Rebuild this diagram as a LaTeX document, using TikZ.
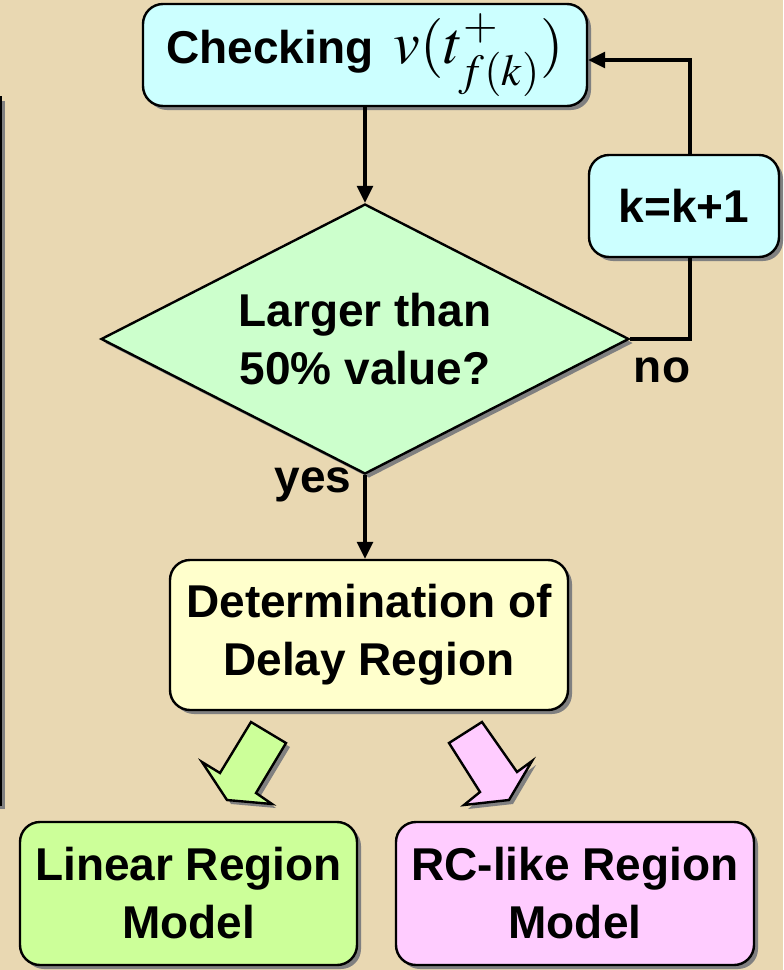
\documentclass[tikz,border=0pt]{standalone}
\usepackage{mathptmx}
\usepackage{fontspec}
\setmainfont{Liberation Sans}
\usetikzlibrary{shapes.geometric,arrows.meta,shadows}
\definecolor{paper}{RGB}{233,216,178}
\definecolor{boxcyan}{RGB}{204,255,255}
\definecolor{boxmint}{RGB}{204,255,204}
\definecolor{boxcream}{RGB}{255,255,204}
\definecolor{boxlime}{RGB}{204,255,153}
\definecolor{boxpink}{RGB}{255,204,255}
\definecolor{shadowgray}{RGB}{128,128,128}

\begin{document}
\begin{tikzpicture}[x=0.5pt, y=-0.5pt,
    font=\fontsize{23}{29}\selectfont\bfseries,
    dropshade/.style={drop shadow={shadow xshift=2pt, shadow yshift=-2pt, fill=shadowgray, opacity=1}},
    box/.style={draw, line width=1.2pt, rounded corners=10pt, align=center, inner sep=0pt, dropshade},
    decision/.style={draw, diamond, shape aspect=1.96, line width=1.2pt, align=center, inner sep=0pt,
      fill=boxmint, dropshade, minimum width=264pt, minimum height=135pt},
    flow/.style={line width=1.6pt, -{Triangle[length=8.5pt, width=8pt]}},
    plain/.style={line width=1.6pt},
    bigarrow/.style={line width=1.2pt, line join=miter, dropshade}]
        \fill[paper] (0,0) rectangle (783,970);
        \useasboundingbox (0,0) rectangle (783,970);

        \draw[line width=1.4pt, fill=paper, dropshade] (-20,97) rectangle (1,805);

        \node[box, fill=boxcyan, minimum width=222pt, minimum height=51pt] (check) at (365,55)
          {Checking\, {\fontsize{30}{30}\selectfont$v(t^{+}_{f(k)})$}};
        \node[decision] (test) at (365,339) {Larger than\\50\% value?};
        \node[box, fill=boxcyan, minimum width=95pt, minimum height=51pt] (incr) at (684,206) {k=k+1};
        \node[box, fill=boxcream, minimum width=199pt, minimum height=75pt] (delay) at (369,635)
          {Determination of\\Delay Region};

        \node (no) at (662,370) {no};
        \node (yes) at (313,485) {yes};

        \draw[flow] (check.south) -- (test.north);
        \draw[flow] (test.south) -- (test.south |- delay.north);
        \draw[plain] (test.east) -| ([xshift=3pt]incr.south);
        \draw[flow] ([xshift=3pt]incr.north) |- ([yshift=-2.5pt]check.east);

        \draw[bigarrow, fill=boxlime] (251,722) -- (286,743) -- (256,793) -- (272,804)
          -- (227,800) -- (202,762) -- (220,773) -- cycle;
        \draw[bigarrow, fill=boxpink] (482,722) -- (449,743) -- (480,792) -- (464,805)
          -- (509,800) -- (532,761) -- (517,772) -- cycle;

        \node[box, fill=boxlime, minimum width=168.5pt, minimum height=71.5pt] (linear) at (188.5,893.5)
          {Linear Region\\Model};
        \node[box, fill=boxpink, minimum width=179pt, minimum height=71.5pt] (rclike) at (575,893.5)
          {RC-like Region\\Model};
      \end{tikzpicture}
\end{document}
